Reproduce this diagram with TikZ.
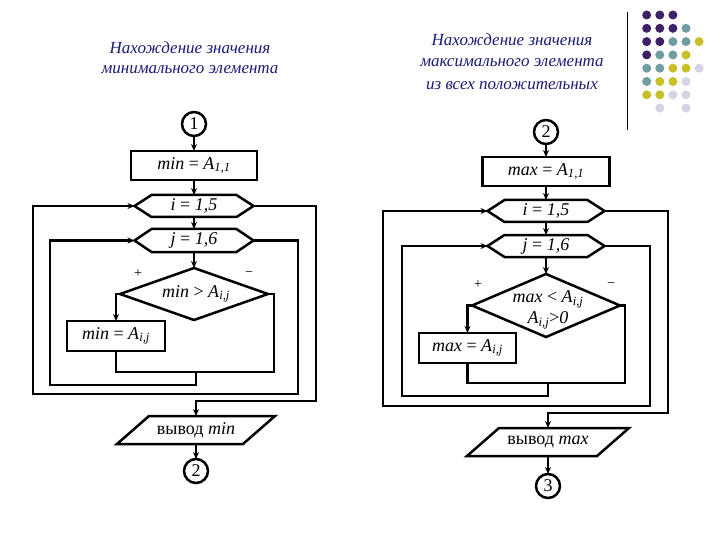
\documentclass[tikz,border=0pt]{standalone}
\usepackage{fontspec}
\setmainfont{Liberation Serif}
\usetikzlibrary{arrows.meta}
\definecolor{titlecol}{RGB}{28,28,120}
\definecolor{dp}{RGB}{62,32,102}
\definecolor{dt}{RGB}{112,158,160}
\definecolor{dy}{RGB}{200,192,40}
\definecolor{dg}{RGB}{212,212,228}
\newcommand\Asub[1]{\textit{A}\textsubscript{\textit{#1}}}
\newcommand\hexdraw[1]{\draw[shp] (#1.west) -- ([xshift=17pt]#1.north west) -- ([xshift=-17pt]#1.north east) -- (#1.east) -- ([xshift=-17pt]#1.south east) -- ([xshift=17pt]#1.south west) -- cycle;}
\newcommand\diadraw[1]{\draw[shp] (#1.north) -- (#1.east) -- (#1.south) -- (#1.west) -- cycle;}
\newcommand\pardraw[1]{\draw[shp] ([xshift=-16pt]#1.south west) -- ([xshift=-16pt]#1.south east) -- ([xshift=16pt]#1.north east) -- ([xshift=16pt]#1.north west) -- cycle;}
\begin{document}
\begin{tikzpicture}[x=1pt,y=-1pt,
  shp/.style={line width=2.5pt},
  ln/.style={line width=2.5pt},
  arr/.style={line width=2.5pt,-{Stealth[length=7pt,width=6pt]}},
  txt/.style={font=\fontsize{18}{20}\selectfont, inner sep=0pt, outer sep=0pt},
  pbox/.style={txt, rectangle, draw, line width=2.5pt},
  frm/.style={txt, rectangle, draw=none},
  conn/.style={txt, circle, draw, line width=2.5pt, minimum size=24pt},
  ttl/.style={font=\fontsize{17}{19}\selectfont\itshape, text=titlecol, inner sep=0pt},
  sgn/.style={font=\fontsize{14}{16}\selectfont, inner sep=0pt}
]
\useasboundingbox (0,0) rectangle (720,540);
\fill[white] (0,0) rectangle (720,540);

% titles
\node[ttl] (t1a) at (190,48) {Нахождение значения};
\node[ttl] (t1b) at (190,70) {минимального элемента};
\node[ttl] (t2a) at (512,40) {Нахождение значения};
\node[ttl] (t2b) at (512,63) {максимального элемента};
\node[ttl] (t2c) at (512,86) {из всех положительных};

% decoration
\draw[line width=0.8pt] (627,12) -- (627,130);
\foreach \c/\i/\j in {dp/0/0,dp/1/0,dp/2/0,
  dp/0/1,dp/1/1,dp/2/1,dt/3/1,
  dp/0/2,dp/1/2,dt/2/2,dt/3/2,dy/4/2,
  dp/0/3,dt/1/3,dt/2/3,dy/3/3,
  dt/0/4,dt/1/4,dy/2/4,dy/3/4,dg/4/4,
  dt/0/5,dy/1/5,dy/2/5,dg/3/5,
  dy/0/6,dy/1/6,dg/2/6,dg/3/6,
  dg/1/7,dg/3/7}
  \fill[\c] (646.7+13.1*\i, 15+13.3*\j) circle (4.5);

% ---------------- left flowchart ----------------
\node[conn] (c1) at (194,124) {1};
\node[pbox, minimum width=126pt, minimum height=29pt] (b1) at (194,165.5) {\textit{min} = \Asub{1,1}};
\node[frm, minimum width=119pt, minimum height=22pt] (hi) at (194,206) {\textit{i} = \textit{1,5}};
\hexdraw{hi}
\node[frm, minimum width=119pt, minimum height=23pt] (hj) at (194,240.5) {\textit{j} = \textit{1,6}};
\hexdraw{hj}
\node[frm, minimum width=148pt, minimum height=52pt] (d) at (194,294) {};
\diadraw{d}
\node[txt] (dt) at (196,294) {\textit{min} > \Asub{i,j}};
\node[sgn] (plus1) at (138,274) {+};
\node[sgn] (minus1) at (249,274) {−};
\node[pbox, minimum width=98pt, minimum height=30pt] (bl) at (116,336) {\textit{min} = \Asub{i,j}};
\node[frm, minimum width=126pt, minimum height=28pt] (o1) at (196,430) {вывод \textit{min}};
\pardraw{o1}
\node[conn] (c2) at (196,471) {2};

\coordinate (mR) at (274,372);
\coordinate (mC) at (196,372);
\coordinate (jr) at (50,385);
\coordinate (je) at (298,394);
\coordinate (ir) at (33,394);
\coordinate (ie) at (316,401);

\draw[arr] (c1.south) -- (c1.south |- b1.north);
\draw[arr] (b1.south) -- (b1.south |- hi.north);
\draw[arr] (hi.south) -- (hi.south |- hj.north);
\draw[arr] (hj.south) -- (hj.south |- d.north);
\draw[arr] (d.west) -| (bl.north);
\draw[ln] (bl.south) |- (mR) |- (d.east);
\draw[arr] (mC) |- (jr) |- (hj.west);
\draw[arr] (hj.east) -| (je) -- (ir) |- (hi.west);
\draw[arr] (hi.east) -| (ie) -| (o1.north);
\draw[arr] (o1.south) -- (o1.south |- c2.north);

% ---------------- right flowchart ----------------
\node[conn] (c2r) at (546,132) {2};
\node[pbox, minimum width=127pt, minimum height=29pt] (b2) at (546,171.5) {\textit{max} = \Asub{1,1}};
\node[frm, minimum width=117pt, minimum height=22pt] (hi2) at (546,211) {\textit{i} = \textit{1,5}};
\hexdraw{hi2}
\node[frm, minimum width=117pt, minimum height=22pt] (hj2) at (546,246) {\textit{j} = \textit{1,6}};
\hexdraw{hj2}
\node[frm, minimum width=148pt, minimum height=63pt] (d2) at (546,305.5) {};
\diadraw{d2}
\node[txt, align=center] (d2t) at (548,310) {\textit{max} < \Asub{i,j}\\[1pt]\Asub{i,j}>\textit{0}};
\node[sgn] (plus2) at (478,285) {+};
\node[sgn] (minus2) at (611,285) {−};
\node[pbox, minimum width=97pt, minimum height=30pt] (br) at (467.5,348) {\textit{max} = \Asub{i,j}};
\node[frm, minimum width=130pt, minimum height=28pt] (o2) at (548,442) {вывод \textit{max}};
\pardraw{o2}
\node[conn] (c3) at (548,486) {3};

\coordinate (mR2) at (625,383);
\coordinate (mC2) at (548,383);
\coordinate (jr2) at (402,396);
\coordinate (je2) at (650,406);
\coordinate (ir2) at (383,406);
\coordinate (ie2) at (668,413);

\draw[arr] (c2r.south) -- (c2r.south |- b2.north);
\draw[arr] (b2.south) -- (b2.south |- hi2.north);
\draw[arr] (hi2.south) -- (hi2.south |- hj2.north);
\draw[arr] (hj2.south) -- (hj2.south |- d2.north);
\draw[arr] (d2.west) -| (br.north);
\draw[ln] (br.south) |- (mR2) |- (d2.east);
\draw[arr] (mC2) |- (jr2) |- (hj2.west);
\draw[arr] (hj2.east) -| (je2) -- (ir2) |- (hi2.west);
\draw[arr] (hi2.east) -| (ie2) -| (o2.north);
\draw[arr] (o2.south) -- (o2.south |- c3.north);
\end{tikzpicture}
\end{document}
